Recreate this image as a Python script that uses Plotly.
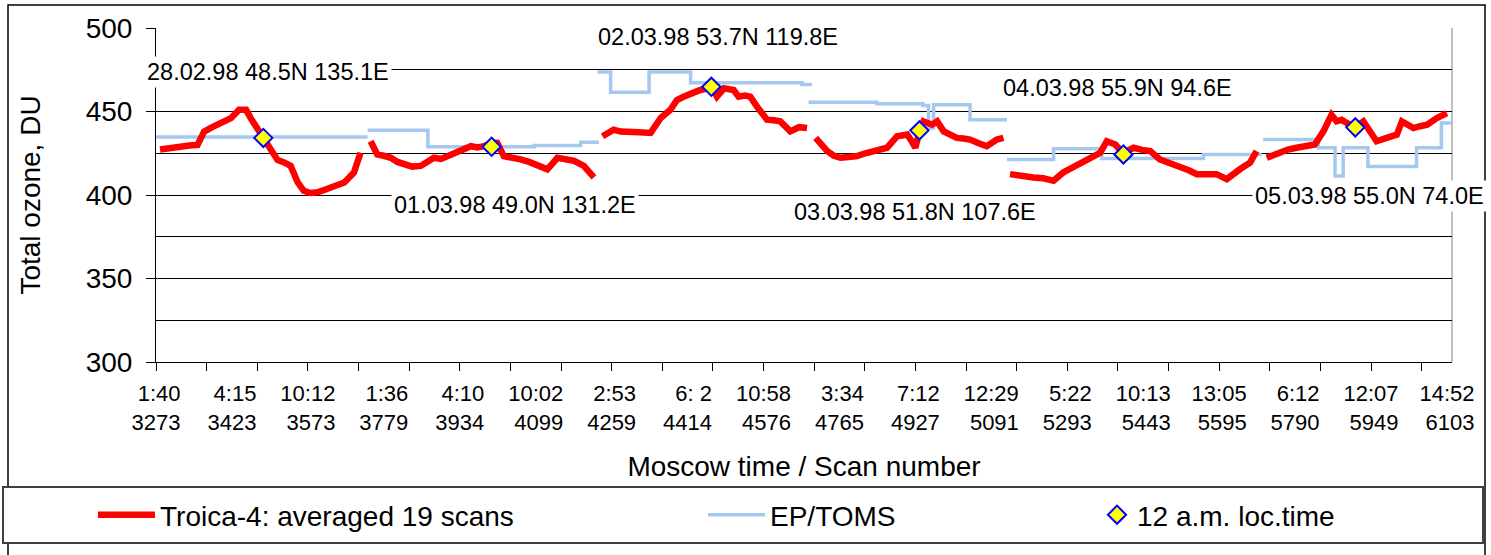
import plotly.graph_objects as go

# ---------------- data ----------------
# x positions are positions along the category axis (one unit = one averaged point)
time_labels = ["1:40", "4:15", "10:12", "1:36", "4:10", "10:02", "2:53", "6: 2", "10:58",
               "3:34", "7:12", "12:29", "5:22", "10:13", "13:05", "6:12", "12:07", "14:52"]
scan_labels = ["3273", "3423", "3573", "3779", "3934", "4099", "4259", "4414", "4576",
               "4765", "4927", "5091", "5293", "5443", "5595", "5790", "5949", "6103"]
label_step = 150
tick_step = 100
axis_end = 2560

# Troica-4 (averaged 19 scans) - segments separated by None
troica_x = [8, 30, 49, 66, 82, 95, 110, 122, 136, 148, 164, 178, 187, 197, 207, 217, 227, 240, 253, 266, 280, 292, 305, 319, 332, 345, 358, 372, 391, 404, None,
            424, 437, 450, 464, 477, 490, 506, 523, 536, 549, 563, 576, 589, 606, 622, 635, 648, 661, 674, 687, 703, 720, 737, 753, 773, 793, 810, 826, 845, 856, 865, None,
            882, 893, 904, 918, 931, 954, 977, 997, 1016, 1029, 1042, 1056, 1075, 1086, 1097, 1108, 1122, 1141, 1151, 1163, 1174, 1187, 1207, 1220, 1233, 1253, 1270, 1286, None,
            1303, 1314, 1326, 1339, 1352, 1368, 1385, 1401, 1418, 1431, 1444, 1464, 1484, 1493, 1500, 1508, 1516, 1533, 1543, 1556, 1569, 1582, 1595, 1608, 1625, 1641, 1661, 1674, None,
            1687, 1700, 1714, 1733, 1753, 1773, 1792, 1805, 1819, 1832, 1845, 1865, 1878, 1895, 1910, 1931, 1948, 1964, 1983, 2003, 2023, 2040, 2056, 2075, 2095, 2115, 2128, 2141, 2161, 2174, None,
            2194, 2207, 2220, 2236, 2253, 2271, 2289, 2306, 2322, 2332, 2342, 2352, 2369, 2385, 2398, 2411, 2431, 2451, 2461, 2472, 2484, 2497, 2511, 2530, 2540, 2550]
troica_y = [427.3, 427.8, 428.3, 429.6, 430.0, 438.0, 440.5, 442.0, 443.5, 446.0, 451.0, 451.0, 446.0, 441.0, 436.0, 431.0, 427.0, 421.0, 419.5, 417.4, 407.5, 402.5, 401.2, 401.6, 403.0, 404.6, 406.0, 407.5, 413.5, 425.3, None,
            432.2, 424.3, 423.5, 422.3, 419.8, 418.4, 417.0, 417.4, 419.5, 422.3, 421.6, 423.3, 425.3, 427.0, 429.2, 428.5, 429.2, 431.0, 431.2, 423.3, 422.5, 421.3, 419.8, 417.4, 415.4, 422.3, 421.0, 420.4, 417.4, 414.0, 410.5, None,
            435.2, 437.5, 439.1, 438.0, 438.1, 437.6, 437.2, 446.1, 451.0, 456.9, 458.8, 460.9, 462.9, 463.5, 465.0, 458.9, 463.9, 462.9, 458.9, 459.5, 458.9, 453.0, 445.1, 444.8, 444.1, 438.1, 440.6, 440.1, None,
            434.2, 430.0, 426.3, 423.5, 422.3, 422.8, 423.3, 425.0, 426.3, 427.5, 428.3, 435.2, 436.2, 432.0, 428.3, 438.0, 444.1, 442.1, 444.1, 438.1, 436.0, 434.2, 433.8, 433.2, 431.0, 429.2, 433.2, 434.2, None,
            412.5, 411.8, 411.4, 410.5, 410.0, 408.5, 413.5, 415.5, 417.4, 419.8, 421.3, 425.3, 432.2, 430.2, 425.0, 428.3, 427.0, 426.3, 421.3, 419.2, 417.4, 414.8, 412.5, 412.8, 412.5, 409.5, 413.0, 415.4, 419.4, 426.3, None,
            422.3, 424.0, 425.3, 427.2, 428.3, 429.0, 430.2, 438.1, 448.0, 444.1, 445.0, 443.1, 440.5, 444.1, 438.0, 432.2, 434.2, 436.2, 444.1, 442.0, 440.1, 441.2, 442.1, 446.1, 447.5, 449.0]

# EP/TOMS (step line) - segments separated by None
toms_x = [0, 418, None,
          418, 537, 747, 839, 875, None,
          872, 898, 974, 1056, 1276, 1296, None,
          1289, 1424, 1515, 1526, 1536, 1608, 1681, None,
          1681, 1773, 1868, 2069, 2184, None,
          2187, 2296, 2329, 2345, 2394, 2490, 2539, 2560]
toms_y = [434.8, 434.8, None,
          438.7, 428.9, 429.6, 431.6, 431.6, None,
          473.7, 461.5, 473.7, 467.2, 466.2, 466.2, None,
          455.6, 454.6, 453.6, 440.1, 454.0, 445.0, 445.0, None,
          421.3, 427.7, 421.8, 424.3, 424.3, None,
          433.2, 428.3, 411.4, 428.3, 417.0, 428.3, 443.1, 443.1]

# 12 a.m. local time points
noon_x = [212, 663, 1097, 1508, 1911, 2369]
noon_y = [434.2, 428.9, 464.8, 438.7, 424.3, 440.5]

# location labels
loc_text = ["28.02.98 48.5N 135.1E", "01.03.98 49.0N 131.2E", "02.03.98 53.7N 119.8E",
            "03.03.98 51.8N 107.6E", "04.03.98 55.9N 94.6E", "05.03.98 55.0N 74.0E"]
loc_x = [221, 709, 1110, 1499, 1900, 2398]
loc_y = [473.7, 394.0, 494.6, 389.8, 464.0, 399.4]

# ---------------- figure ----------------
FONT = "Arial, 'Liberation Sans', sans-serif"
NB = "\u00a0"


def tick_text(t, s):
    # right-align the two lines of each category label
    if len(t) == 4 and " " not in t:
        t = NB + t
    elif " " in t:
        t = NB + NB + t
    elif len(t) == 5:
        s = NB + s
    return t + "<br>" + s


label_pos = [i * label_step for i in range(len(time_labels))]
tick_pos = list(range(0, axis_end + 1, tick_step))

fig = go.Figure()
fig.add_trace(go.Scatter(x=toms_x, y=toms_y, mode="lines", name="EP/TOMS",
                         line=dict(color="#A6C8EE", width=3.5, shape="hv"),
                         connectgaps=False, legend="legend2", showlegend=True))
fig.add_trace(go.Scatter(x=troica_x, y=troica_y, mode="lines", name="Troica-4: averaged 19 scans",
                         line=dict(color="#FF0000", width=6.5), connectgaps=False,
                         legend="legend", showlegend=True))
fig.add_trace(go.Scatter(x=noon_x, y=noon_y, mode="markers", name="12 a.m. loc.time",
                         marker=dict(symbol="diamond", size=14, color="#FFFF00",
                                     line=dict(color="#0000FF", width=2)),
                         legend="legend3", showlegend=True))

for t, x, y in zip(loc_text, loc_x, loc_y):
    fig.add_annotation(x=x, y=y, text=t, showarrow=False, bgcolor="white",
                       borderpad=2, font=dict(size=23.5, color="black", family=FONT))

legend_common = dict(xanchor="left", yanchor="middle", bgcolor="rgba(0,0,0,0)",
                     font=dict(size=28), y=(362 - 515) / 334)

fig.update_layout(
    width=1491, height=555,
    showlegend=True,
    margin=dict(l=156, r=39, t=28, b=193, autoexpand=False),
    paper_bgcolor="white", plot_bgcolor="white",
    font=dict(family=FONT, color="black"),
    xaxis=dict(range=[0, axis_end], tickmode="array", tickvals=label_pos,
               ticktext=[tick_text(t, s) for t, s in zip(time_labels, scan_labels)],
               ticks="", showline=True, linecolor="black", linewidth=1, automargin=False,
               showgrid=False, zeroline=False, tickfont=dict(size=22),
               ticklabelstandoff=12,
               minor=dict(tickmode="array", tickvals=tick_pos, ticks="outside",
                          ticklen=8, tickcolor="black", showgrid=False),
               title=dict(text="Moscow time / Scan number", font=dict(size=28), standoff=22)),
    yaxis=dict(range=[300, 500], dtick=50, tick0=300, ticks="outside", ticklen=9,
               tickcolor="black", showline=True, linecolor="black", linewidth=1,
               showgrid=True, gridcolor="black", gridwidth=1, zeroline=False,
               tickfont=dict(size=28), automargin=False, ticklabelstandoff=8,
               minor=dict(dtick=25, tick0=300, showgrid=True, gridcolor="black", gridwidth=1),
               title=dict(text="Total ozone, DU", font=dict(size=28), standoff=36)),
    legend=dict(x=(93 - 156) / 1296, itemwidth=57, **legend_common),
    legend2=dict(x=(703 - 156) / 1296, itemwidth=57, **legend_common),
    legend3=dict(x=(1097 - 156) / 1296, **legend_common),
    shapes=[
        dict(type="line", xref="paper", yref="paper", x0=1, x1=1, y0=0, y1=1,
             line=dict(color="#808080", width=1), layer="below"),
        dict(type="rect", xref="paper", yref="paper",
             x0=(8 - 156) / 1296, x1=(1485 - 156) / 1296, y0=(362 - 560) / 334, y1=(362 - 5) / 334,
             line=dict(color="black", width=1.5), layer="below"),
        dict(type="rect", xref="paper", yref="paper",
             x0=(3 - 156) / 1296, x1=(1483 - 156) / 1296, y0=(362 - 543) / 334, y1=(362 - 487) / 334,
             line=dict(color="#404040", width=2), fillcolor="white", layer="below"),
    ],
)

# remove the page's default 8px body margin so the figure sits at the window origin
fig.write_html("out.html", config={"displayModeBar": False},
               post_script="document.body.style.margin='0';")
